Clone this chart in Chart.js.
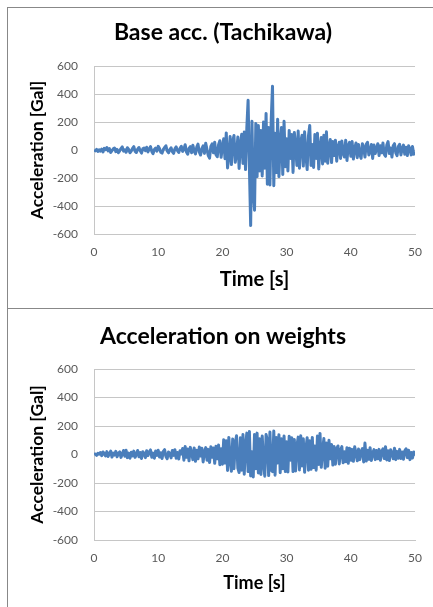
<!DOCTYPE html>
<html>
<head>
<meta charset="utf-8">
<script src="https://cdn.jsdelivr.net/npm/chart.js@4.4.0/dist/chart.umd.min.js"></script>
<style>
  html, body { margin: 0; padding: 0; background: #ffffff; width: 433px; height: 607px; overflow: hidden; }
  .box { position: absolute; left: 7px; width: 460px; border: 1px solid #888888; box-sizing: border-box; }
  #box1 { top: 7px; height: 302px; }
  #box2 { top: 308px; height: 400px; }
  canvas { position: absolute; left: 8px; }
  #c1 { top: 8px; }
  #c2 { top: 309px; }
</style>
</head>
<body>
<div class="box" id="box1"></div>
<div class="box" id="box2"></div>
<canvas id="c1" width="425" height="300"></canvas>
<canvas id="c2" width="425" height="298"></canvas>
<script>
const timeStep = 0.2;
const xTicks = [0, 10, 20, 30, 40, 50];
const yTicks = [-600, -400, -200, 0, 200, 400, 600];

const baseAcc = [
  0, -6, 4, -10, 2, -8, 6, -14, 12, 2,
  18, -6, 10, -18, -4, 8, 14, -12, 4, -20,
  -6, 10, 22, -8, 2, -16, 16, 4, -20, -8,
  12, 24, -10, -18, 6, 18, -6, -22, 8, 14,
  -4, 20, -14, 6, 24, -10, -26, 4, 14, -8,
  26, 10, -16, -22, 4, 18, 30, -6, -20, 2,
  16, -12, -24, 8, 22, -4, -18, 12, 26, -10,
  6, 38, -14, -30, 12, 24, -20, 34, -8, -28,
  20, 42, -16, -36, 10, 30, -24, 48, 4, -40,
  -58, 26, 44, -20, 56, -34, -48, 38, 66, -52,
  24, 80, -62, 122, -128, -40, 96, -104, 60, 104,
  -88, -30, 92, -132, 40, 112, -96, 128, -140, 156,
  355, -120, -540, 205, -300, -430, 190, -190, 175, -150,
  140, -185, 200, -130, 260, -245, 160, -250, 215, 455,
  -255, 120, -160, 220, -190, 60, 160, -175, 205, -120,
  80, -150, 140, -60, 110, -160, 125, 30, -110, 135,
  -130, 60, 105, -115, 130, -40, -140, 100, 175, -110,
  40, -125, 110, -60, 120, -135, 20, 90, -100, 105,
  -80, 130, -95, 20, 75, -90, 60, -40, 70, -80,
  20, 55, -60, 65, -20, -50, 70, -75, 30, 55,
  -45, 60, -65, 10, 50, -55, 40, -30, -60, 45,
  20, -50, 40, 55, -35, -10, 40, -60, 35, -25,
  10, 45, -40, 30, -20, 50, -30, -45, 35, 60,
  -25, 15, -50, 30, 45, -20, -40, 25, 40, -35,
  10, 35, -30, 20, -40, 30, 10, -35, 25, -30,
  -15
];

const weightAcc = [
  0, 4, -6, 8, 2, 14, -8, 18, 4, -10,
  20, -14, 6, 24, -18, 10, -4, 22, -16, 8,
  18, -20, 4, 28, -12, 30, -22, 10, -26, 16,
  -10, 24, -20, 2, 28, -16, 14, -28, 20, 6,
  -22, 26, -8, 18, 32, -20, 10, -26, 24, -6,
  30, -18, 12, -28, 22, 34, -14, -30, 18, 8,
  -24, 28, -6, 34, -26, 14, -32, 26, 4, 42,
  -40, 56, -20, 38, -44, 50, 10, -36, 46, -48,
  30, -30, 52, -10, 44, -52, 20, 48, -40, 36,
  -56, 54, -20, 46, -62, 58, -30, 66, -72, 40,
  -68, 104, -60, 96, -112, 120, -40, -118, 108, -100,
  80, 132, -96, -126, 118, -110, 140, -138, 60, 150,
  -120, 162, -150, 20, -158, 140, -100, 150, -130, 110,
  -140, 130, -60, -152, 140, 100, -148, 158, -110, -120,
  165, -145, 120, -60, 138, -128, 110, -100, 130, -120,
  90, -122, 128, -40, 118, -120, 105, -116, 60, 122,
  -108, 132, -80, 110, -125, 40, 118, -110, 96, -104,
  120, -92, 60, -110, 130, -70, 148, -90, 30, 112,
  -96, 80, -82, 100, -30, 70, -74, 56, -68, 40,
  60, -66, 30, 55, -58, 20, -50, 48, -62, 44,
  -40, 36, -48, 54, 10, -44, 38, -36, 22, 42,
  -52, 80, -46, 30, -34, 48, -42, 10, 34, -36,
  28, -30, 36, -40, 20, 40, -28, 55, -38, 26,
  -42, 34, 10, -30, 44, -36, 22, -26, 36, -28,
  18, -34, 26, 40, -22, 30, -36, 14, -24, 18,
  -8
];

// ---- rendering ----
Chart.defaults.font.family = 'Lato, "Liberation Sans", Arial, sans-serif';
const lineColor = '#4a7ebb';
const gridColor = '#c6c6c6';
const tickColor = '#595959';

function makeChart(id, titleText, values, L) {
  const pts = values.map((v, i) => ({ x: +(i * timeStep).toFixed(2), y: v }));
  return new Chart(document.getElementById(id), {
    type: 'line',
    data: { datasets: [{ data: pts, borderColor: lineColor, borderWidth: 3, borderJoinStyle: 'round', pointRadius: 0, tension: 0, fill: false }] },
    options: {
      responsive: false,
      animation: false,
      events: [],
      layout: { padding: { left: L.padLeft, right: L.padRight, top: 0, bottom: 0 } },
      plugins: {
        legend: { display: false },
        tooltip: { enabled: false },
        title: {
          display: true,
          text: titleText,
          color: '#000000',
          font: { size: 23, weight: 'bold', lineHeight: 1.2 },
          padding: { top: L.titleTop, bottom: L.titleBottom }
        }
      },
      scales: {
        x: {
          type: 'linear',
          min: 0, max: 50,
          afterBuildTicks: (s) => { s.ticks = xTicks.map(v => ({ value: v })); },
          afterFit: (s) => { s.height = L.xHeight; },
          grid: { display: false, drawTicks: false },
          border: { display: true, color: gridColor, width: 1 },
          ticks: { color: tickColor, font: { size: 12 }, padding: L.xTickPad, maxRotation: 0, autoSkip: false },
          title: { display: true, text: 'Time [s]', color: '#000000', font: { size: L.xTitleSize, weight: 'bold', lineHeight: 1.0 }, padding: { top: 0, bottom: L.xTitlePad } }
        },
        y: {
          min: -600, max: 600,
          afterBuildTicks: (s) => { s.ticks = yTicks.map(v => ({ value: v })); },
          afterFit: (s) => { s.width = L.yWidth; },
          grid: { color: gridColor, lineWidth: 1, drawTicks: false },
          border: { display: true, color: gridColor, width: 1 },
          ticks: { color: tickColor, font: { size: 12 }, padding: 16 },
          title: { display: true, text: 'Acceleration [Gal]', color: '#000000', font: { size: 17.5, weight: 'bold', lineHeight: 1.0 }, padding: { top: 0, bottom: 0 } }
        }
      }
    }
  });
}

makeChart('c1', 'Base acc. (Tachikawa)', baseAcc, {
  padLeft: 21, padRight: 16, yWidth: 65,
  titleTop: 11.2, titleBottom: 19.2,
  xHeight: 74, xTickPad: 11, xTitleSize: 20, xTitlePad: 18
});
makeChart('c2', 'Acceleration on weights', weightAcc, {
  padLeft: 21, padRight: 16, yWidth: 65,
  titleTop: 14.2, titleBottom: 18.2,
  xHeight: 67, xTickPad: 11, xTitleSize: 18, xTitlePad: 15
});
</script>
</body>
</html>
